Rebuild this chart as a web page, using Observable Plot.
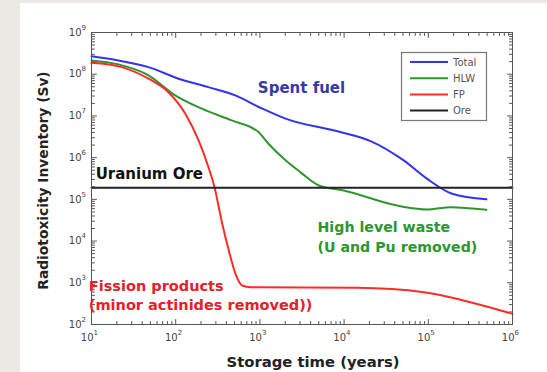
<!DOCTYPE html>
<html><head><meta charset="utf-8">
<script src="https://cdn.jsdelivr.net/npm/d3@7"></script>
<script src="https://cdn.jsdelivr.net/npm/@observablehq/plot@0.6"></script>
<style>
html,body{margin:0;padding:0;background:#ece9e4;width:547px;height:372px;overflow:hidden;}
#panel{position:absolute;left:20px;top:3px;width:527px;height:369px;background:#fff;}
#panel svg{display:block;background:#fff;}
</style></head><body><div id="panel"></div>
<script>
// ---- data ----
const timeTotal = [10, 20.9, 47.5, 108, 245, 509, 1016, 2014, 9060, 20600, 51000, 97000, 192000, 490000];
const total     = [2.7e8, 2.14e8, 1.48e8, 7.8e7, 4.9e7, 3.1e7, 1.57e7, 8.6e6, 4.1e6, 2.5e6, 8.6e5, 3.1e5, 1.36e5, 1.0e5];

const timeHLW = [10, 20.9, 47.5, 98.6, 204, 463, 962, 1264, 1923, 3020, 5010, 9910, 46800, 97000, 184000, 490000];
const hlw     = [2.14e8, 1.72e8, 9.4e7, 3.1e7, 1.49e7, 7.8e6, 4.1e6, 2.15e6, 9.4e5, 4.5e5, 2.15e5, 1.63e5, 6.8e4, 5.7e4, 6.5e4, 5.6e4];

const timeFP = [10, 22.9, 47.5, 82, 130, 187, 245, 289, 357, 427, 513, 617, 773, 14300, 88500, 317000, 1e6];
const fp     = [1.89e8, 1.48e8, 7.8e7, 3.7e7, 1.13e7, 2.6e6, 5.9e5, 1.96e5, 2.6e4, 5960, 1640, 861, 783, 759, 596, 343, 180];

const timeOre = [10, 1e6];
const ore     = [1.9e5, 1.9e5];

const seriesNames  = ["Total", "HLW", "FP", "Ore"];
const seriesColors = ["#3333ee", "#2f962f", "#ff2b2b", "#222222"];

const xTicks = [10, 100, 1000, 1e4, 1e5, 1e6];
const xTickExp = ["1", "2", "3", "4", "5", "6"];
const yTicks = [1e2, 1e3, 1e4, 1e5, 1e6, 1e7, 1e8, 1e9];
const yTickExp = ["2", "3", "4", "5", "6", "7", "8", "9"];
const minorMult = [2, 3, 4, 5, 6, 7, 8, 9];

const annText  = ["Spent fuel", "Uranium Ore", "High level waste", "(U and Pu removed)", "Fission products", "(minor actinides removed))"];
const annX     = [3120, 11.2, 4830, 4830, 9.3, 9.3];
const annY     = [4.6e7, 3.95e5, 2.12e4, 7150, 815, 290];
const annColor = ["#3838a8", "#111111", "#2e962e", "#2e962e", "#e5202a", "#e5202a"];
const annSize  = [15, 15, 14.2, 14.2, 14.5, 14.5];

// ---- build ----
const rows = (xs, ys, s) => xs.map((x, i) => ({t: x, v: ys[i], s}));
const lineData = [
  ...rows(timeTotal, total, "Total"),
  ...rows(timeHLW, hlw, "HLW"),
  ...rows(timeFP, fp, "FP"),
  ...rows(timeOre, ore, "Ore")
];
const xMinor = xTicks.slice(0, -1).flatMap(d => minorMult.map(m => d * m));
const yMinor = yTicks.slice(0, -1).flatMap(d => minorMult.map(m => d * m));
const ann = annText.map((t, i) => ({t, x: annX[i], y: annY[i], c: annColor[i], fs: annSize[i]}));

const tickShape = {draw(ctx, l) { ctx.moveTo(0, 0); ctx.lineTo(0, -l); }};
const font = "DejaVu Sans";
const tk = {stroke: "#555", strokeWidth: 1, anchor: "start", shape: tickShape};

const W = 527, H = 369;
const svg = Plot.plot({
  width: W, height: H,
  marginLeft: 71, marginRight: 35, marginTop: 29, marginBottom: 48,
  style: {fontFamily: font, background: "#fff"},
  x: {type: "log", domain: [10, 1e6], axis: null},
  y: {type: "log", domain: [1e2, 1e9], axis: null},
  color: {domain: seriesNames, range: seriesColors},
  marks: [
    // inward ticks on all four sides
    Plot.vector(xTicks, {...tk, x: d => d, y: 1e2, length: 5, rotate: 0}),
    Plot.vector(xMinor, {...tk, x: d => d, y: 1e2, length: 3, rotate: 0}),
    Plot.vector(xTicks, {...tk, x: d => d, y: 1e9, length: 5, rotate: 180}),
    Plot.vector(xMinor, {...tk, x: d => d, y: 1e9, length: 3, rotate: 180}),
    Plot.vector(yTicks, {...tk, y: d => d, x: 10, length: 5, rotate: 90}),
    Plot.vector(yMinor, {...tk, y: d => d, x: 10, length: 3, rotate: 90}),
    Plot.vector(yTicks, {...tk, y: d => d, x: 1e6, length: 5, rotate: -90}),
    Plot.vector(yMinor, {...tk, y: d => d, x: 1e6, length: 3, rotate: -90}),
    // tick labels 10^n
    Plot.text(xTicks, {x: d => d, y: 1e2, text: () => "10", textAnchor: "end", dx: 2, dy: 13, fontSize: 10, fill: "#444", fontFamily: font}),
    Plot.text(xTicks, {x: d => d, y: 1e2, text: (d, i) => xTickExp[i], textAnchor: "start", dx: 2, dy: 8, fontSize: 7, fill: "#444", fontFamily: font}),
    Plot.text(yTicks, {x: 10, y: d => d, text: () => "10", textAnchor: "end", dx: -10, dy: 0, fontSize: 10, fill: "#444", fontFamily: font}),
    Plot.text(yTicks, {x: 10, y: d => d, text: (d, i) => yTickExp[i], textAnchor: "start", dx: -10, dy: -5, fontSize: 7, fill: "#444", fontFamily: font}),
    // series
    Plot.line(lineData, {x: "t", y: "v", z: "s", stroke: "s", strokeWidth: 2, curve: "monotone-x"}),
    Plot.frame({stroke: "#555", strokeWidth: 1}),
    // annotations
    Plot.text(ann.filter(d => d.t === "Spent fuel"), {x: "x", y: "y", text: "t", fill: "c", fontSize: "fs", fontWeight: "bold", fontFamily: font, textAnchor: "middle"}),
    Plot.text(ann.filter(d => d.t !== "Spent fuel"), {x: "x", y: "y", text: "t", fill: "c", fontSize: "fs", fontWeight: "bold", fontFamily: font, textAnchor: "start"}),
    // axis titles
    Plot.text(["Storage time (years)"], {frameAnchor: "bottom", text: d => d, textAnchor: "middle", lineAnchor: "middle", dx: 11, dy: 38, fontSize: 14.8, fontWeight: "bold", fill: "#222", fontFamily: font}),
    Plot.text(["Radiotoxicity Inventory (Sv)"], {frameAnchor: "left", text: d => d, rotate: -90, textAnchor: "middle", lineAnchor: "middle", dx: -48, dy: 2, fontSize: 13.8, fontWeight: "bold", fill: "#222", fontFamily: font})
  ]
});
document.getElementById("panel").appendChild(svg);

// legend box (top-right, inside the plot)
const g = d3.select(svg).append("g").attr("font-family", font);
const lx = 381.5, ly = 49.5, lw = 85, lh = 68;
g.append("rect").attr("x", lx).attr("y", ly).attr("width", lw).attr("height", lh)
  .attr("fill", "#fff").attr("stroke", "#777").attr("stroke-width", 1.2);
seriesNames.forEach((n, i) => {
  const yy = ly + 9.5 + i * 16.2;
  g.append("line").attr("x1", lx + 8.5).attr("x2", lx + 46.5).attr("y1", yy).attr("y2", yy)
    .attr("stroke", seriesColors[i]).attr("stroke-width", 2);
  g.append("text").attr("x", lx + 51.5).attr("y", yy).attr("dy", "0.35em")
    .attr("text-anchor", "start").attr("font-size", 10).attr("fill", "#555").text(n);
});
</script></body></html>
